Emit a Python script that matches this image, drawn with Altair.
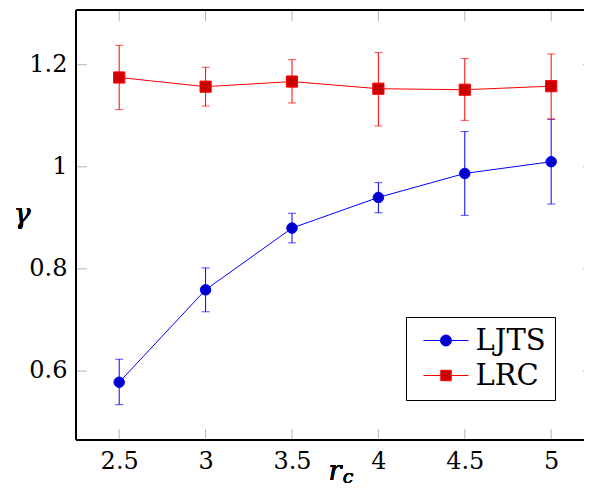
import altair as alt
import pandas as pd

# ---- data ----
r_c = [2.5, 3, 3.5, 4, 4.5, 5]
ljts = [0.578, 0.759, 0.880, 0.940, 0.987, 1.010]
ljts_lo = [0.534, 0.716, 0.851, 0.910, 0.905, 0.927]
ljts_hi = [0.623, 0.802, 0.909, 0.969, 1.069, 1.093]
lrc = [1.175, 1.157, 1.167, 1.153, 1.151, 1.158]
lrc_lo = [1.112, 1.119, 1.125, 1.080, 1.091, 1.094]
lrc_hi = [1.238, 1.195, 1.210, 1.224, 1.212, 1.221]
series_names = ["LJTS", "LRC"]
x_ticks = [2.5, 3, 3.5, 4, 4.5, 5]
y_ticks = [0.6, 0.8, 1.0, 1.2]

rows = []
for name, vals, lo, hi in [("LJTS", ljts, ljts_lo, ljts_hi), ("LRC", lrc, lrc_lo, lrc_hi)]:
    for x, v, l, h in zip(r_c, vals, lo, hi):
        rows.append({"r": x, "g": v, "lo": l, "hi": h, "series": name})
df = pd.DataFrame(rows)
xt = pd.DataFrame({"t": x_ticks})
yt = pd.DataFrame({"t": y_ticks})

W, H = 508, 430
FONT = "DejaVu Serif"
xs = alt.Scale(domain=[2.25, 5.19], nice=False, zero=False)
ys = alt.Scale(domain=[0.4648, 1.3072], nice=False, zero=False)

X = alt.X("r:Q", scale=xs, axis=alt.Axis(values=x_ticks, format="~g", ticks=False, domain=False,
                                          grid=False, labelPadding=9, title=None))
Y = alt.Y("g:Q", scale=ys, axis=alt.Axis(values=y_ticks, format="~g", ticks=False, domain=False,
                                          grid=False, labelPadding=9, title=None))

colors = {"LJTS": ("#0000ff", "#0000cc", "circle", 110),
          "LRC": ("#ff0000", "#cc0000", "square", 125)}

base = alt.Chart(df)
layers = []

tick_col = "#b5b5b5"
layers.append(alt.Chart(xt).mark_rule(color=tick_col, strokeWidth=1).encode(
    x=alt.X("t:Q", scale=xs), y=alt.value(H), y2=alt.value(H - 11)))
layers.append(alt.Chart(xt).mark_rule(color=tick_col, strokeWidth=1).encode(
    x=alt.X("t:Q", scale=xs), y=alt.value(0), y2=alt.value(11)))
layers.append(alt.Chart(yt).mark_rule(color=tick_col, strokeWidth=1).encode(
    y=alt.Y("t:Q", scale=ys), x=alt.value(0), x2=alt.value(11)))
layers.append(alt.Chart(yt).mark_rule(color=tick_col, strokeWidth=1).encode(
    y=alt.Y("t:Q", scale=ys), x=alt.value(W + 10), x2=alt.value(W - 1)))

for name in series_names:
    stroke, fill, shape, size = colors[name]
    s = base.transform_filter(alt.datum.series == name)
    layers.append(s.mark_line(color=stroke, strokeWidth=1).encode(x=X, y=Y))
    layers.append(s.mark_rule(color=stroke, strokeWidth=1).encode(
        x=alt.X("r:Q", scale=xs), y=alt.Y("lo:Q", scale=ys), y2="hi:Q"))
    for col in ["lo", "hi"]:
        layers.append(s.mark_tick(color=stroke, orient="horizontal", size=8, thickness=1).encode(
            x=alt.X("r:Q", scale=xs), y=alt.Y(f"{col}:Q", scale=ys)))
    layers.append(s.mark_point(shape=shape, filled=True, fill=fill, stroke=stroke, strokeWidth=1,
                               size=size, opacity=1).encode(x=X, y=Y))

circ = "M1,0A1,1 0 1,1 -1,0A1,1 0 1,1 1,0Z M-4.1,0H-1 M1,0H4.1"
sq = "M-0.95,-0.95H0.95V0.95H-0.95Z M-4.1,0H-0.95 M0.95,0H4.1"


def legend():
    return alt.Legend(title=None, orient="none", legendX=330, legendY=307,
                      strokeColor="black", fillColor="white", padding=9,
                      cornerRadius=0, labelFont=FONT, labelFontSize=29,
                      labelColor="black", rowPadding=5, symbolOffset=16.5,
                      labelOffset=15, symbolStrokeWidth=1, symbolSize=121,
                      labelExpr="datum.label + '\u00a0'")


leg = base.transform_filter(alt.datum.r > 100).mark_point(filled=True, size=121, strokeWidth=1, opacity=1).encode(
    x=alt.X("r:Q", scale=xs),
    y=alt.Y("g:Q", scale=ys),
    shape=alt.Shape("series:N", scale=alt.Scale(domain=series_names, range=[circ, sq]), legend=legend()),
    fill=alt.Fill("series:N", scale=alt.Scale(domain=series_names, range=["#0000cc", "#cc0000"]), legend=legend()),
    stroke=alt.Stroke("series:N", scale=alt.Scale(domain=series_names, range=["#0000ff", "#ff0000"]), legend=legend()),
)
layers.append(leg)

layers.append(alt.Chart(xt).mark_rule(color="black", strokeWidth=1.3).encode(
    x=alt.value(0), y=alt.value(0), y2=alt.value(H)))
layers.append(alt.Chart(xt).mark_rule(color="black", strokeWidth=1.3).encode(
    x=alt.value(0), x2=alt.value(W + 10), y=alt.value(0)))
layers.append(alt.Chart(xt).mark_rule(color="black", strokeWidth=1.3).encode(
    x=alt.value(0), x2=alt.value(W + 10), y=alt.value(H)))

layers.append(alt.Chart(xt).mark_text(text="γ", font=FONT, fontSize=28, fontStyle="italic",
                                      align="center", baseline="alphabetic").encode(
    x=alt.value(-54), y=alt.value(213)))
layers.append(alt.Chart(xt).mark_text(text="r", font=FONT, fontSize=27, fontStyle="italic",
                                      align="center", baseline="alphabetic").encode(
    x=alt.value(259), y=alt.value(470)))
layers.append(alt.Chart(xt).mark_text(text="c", font=FONT, fontSize=19, fontStyle="italic",
                                      align="center", baseline="alphabetic").encode(
    x=alt.value(272), y=alt.value(473)))

chart = alt.layer(*layers).properties(
    width=W, height=H,
    autosize=alt.AutoSizeParams(type="none"),
    padding={"left": 68, "top": 2, "right": 0, "bottom": 49},
).configure_view(stroke=None).configure_axis(
    labelFont=FONT, labelFontSize=24, labelColor="black"
)

chart.save("out.html", embed_options={"renderer": "svg", "actions": False})
